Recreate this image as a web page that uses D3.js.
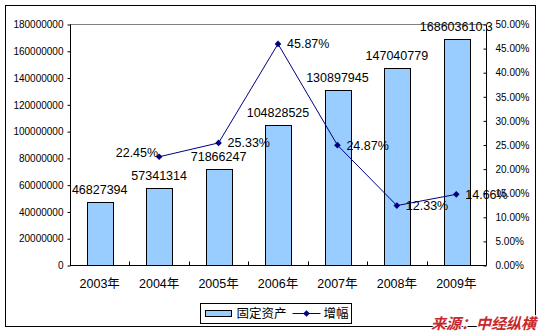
<!DOCTYPE html>
<html>
<head>
<meta charset="utf-8">
<script src="https://cdn.jsdelivr.net/npm/d3@7"></script>
<style>
  html, body { margin: 0; padding: 0; background: #fff; }
  svg { display: block; font-family: "Liberation Sans", Arial, "Noto Sans CJK SC", sans-serif; }
</style>
</head>
<body>
<svg id="chart" width="544" height="335"></svg>
<script>
// Fixed-asset investment by year, with year-on-year growth rate
const years = ["2003年", "2004年", "2005年", "2006年", "2007年", "2008年", "2009年"];
const assets = [46827394, 57341314, 71866247, 104828525, 130897945, 147040779, 168603610.3];
const assetLabels = ["46827394", "57341314", "71866247", "104828525", "130897945", "147040779", "168603610.3"];
const growthYears = ["2004年", "2005年", "2006年", "2007年", "2008年", "2009年"];
const growth = [0.2245, 0.2533, 0.4587, 0.2487, 0.1233, 0.1466];
const leftTicks = [0, 20000000, 40000000, 60000000, 80000000, 100000000, 120000000, 140000000, 160000000, 180000000];
const rightTicks = [0, 0.05, 0.10, 0.15, 0.20, 0.25, 0.30, 0.35, 0.40, 0.45, 0.50];
const legendNames = ["固定资产", "增幅"];

const svg = d3.select("#chart");
const plot = { left: 70, right: 486, top: 24, bottom: 265 };

const x = d3.scaleBand().domain(years).range([plot.left, plot.right]).paddingInner(0).paddingOuter(0);
const yL = d3.scaleLinear().domain([0, 180000000]).range([plot.bottom, plot.top]);
const yR = d3.scaleLinear().domain([0, 0.5]).range([plot.bottom, plot.top]);

// outer frame
svg.append("rect").attr("x", 5.5).attr("y", 5.5).attr("width", 530).attr("height", 321)
  .attr("fill", "#fff").attr("stroke", "#000").attr("stroke-width", 1);

// top gridline at the max value
svg.append("line")
  .attr("x1", plot.left).attr("x2", plot.right)
  .attr("y1", Math.round(yL(180000000)) + 0.5).attr("y2", Math.round(yL(180000000)) + 0.5)
  .attr("stroke", "#808080");

// bars
const barW = x.bandwidth() * 0.43;
svg.append("g").selectAll("rect").data(assets).join("rect")
  .attr("x", (d, i) => Math.round(x(years[i]) + x.bandwidth() / 2 - barW / 2) + 0.5)
  .attr("y", d => Math.round(yL(d)) + 0.5)
  .attr("width", Math.round(barW))
  .attr("height", d => Math.round(yL(0)) - Math.round(yL(d)))
  .attr("fill", "#99ccff").attr("stroke", "#000").attr("stroke-width", 1);

// left axis
const axL = d3.axisLeft(yL).tickValues(leftTicks).tickSize(3).tickPadding(4).tickFormat(d3.format("d"));
svg.append("g").attr("transform", `translate(${plot.left + 0.5},0.5)`).call(axL)
  .call(g => g.select(".domain").attr("d", `M0,${plot.top}V${plot.bottom}`))
  .call(g => g.selectAll("text").attr("font-size", 10).attr("fill", "#000").attr("font-family", "Liberation Sans, Arial"));

// right axis (ticks pointing inward)
const axR = d3.axisLeft(yR).tickValues(rightTicks).tickSize(3).tickPadding(-12).tickFormat(d3.format(".2%"));
svg.append("g").attr("transform", `translate(${plot.right + 0.5},0.5)`).call(axR)
  .call(g => g.select(".domain").attr("d", `M0,${plot.top}V${plot.bottom}`))
  .call(g => g.selectAll("text").attr("text-anchor", "start").attr("x", 9)
    .attr("font-size", 10).attr("fill", "#000").attr("font-family", "Liberation Sans, Arial"));

// bottom axis: ticks between categories, pointing up
const xg = svg.append("g").attr("transform", `translate(0,${plot.bottom + 0.5})`);
xg.append("line").attr("x1", plot.left).attr("x2", plot.right).attr("stroke", "#000");
xg.selectAll("line.tk").data(d3.range(years.length + 1)).join("line").attr("class", "tk")
  .attr("x1", i => Math.round(plot.left + i * x.bandwidth()) + 0.5)
  .attr("x2", i => Math.round(plot.left + i * x.bandwidth()) + 0.5)
  .attr("y1", -4).attr("y2", 0).attr("stroke", "#000");
xg.selectAll("text").data(years).join("text")
  .attr("x", d => x(d) + x.bandwidth() / 2).attr("y", 22)
  .attr("text-anchor", "middle").attr("font-size", 12.5)
  .attr("font-family", "Liberation Sans, Arial, Noto Sans CJK SC")
  .text(d => d);

// bar value labels
svg.append("g").selectAll("text").data(assets).join("text")
  .attr("x", (d, i) => x(years[i]) + x.bandwidth() / 2)
  .attr("y", d => yL(d) - 8)
  .attr("text-anchor", "middle").attr("font-size", 12.5).attr("fill", "#000")
  .text((d, i) => assetLabels[i]);

// growth line
const cx = d => x(d) + x.bandwidth() / 2;
const line = d3.line().x((d, i) => cx(growthYears[i])).y(d => yR(d));
svg.append("path").datum(growth).attr("d", line)
  .attr("fill", "none").attr("stroke", "#000080").attr("stroke-width", 1);

const diamond = d3.symbol().type(d3.symbolDiamond2 || d3.symbolDiamond).size(40);
svg.append("g").selectAll("path").data(growth).join("path")
  .attr("transform", (d, i) => `translate(${cx(growthYears[i])},${yR(d)}) rotate(0)`)
  .attr("d", d3.symbol().type(d3.symbolSquare).size(22))
  .attr("transform", (d, i) => `translate(${cx(growthYears[i])},${yR(d)}) rotate(45)`)
  .attr("fill", "#000080");

// growth labels
svg.append("g").selectAll("text").data(growth).join("text")
  .attr("x", (d, i) => i === 0 ? cx(growthYears[i]) - 1 : cx(growthYears[i]) + 9)
  .attr("y", (d, i) => i === 0 ? yR(d) - 4 : yR(d))
  .attr("dy", "0.35em")
  .attr("text-anchor", (d, i) => i === 0 ? "end" : "start")
  .attr("font-size", 12.5).attr("fill", "#000")
  .text(d => d3.format(".2%")(d));

// legend
const lg = svg.append("g").attr("transform", "translate(200.5,303.5)");
lg.append("rect").attr("width", 151).attr("height", 20).attr("fill", "#fff").attr("stroke", "#000");
lg.append("rect").attr("x", 5).attr("y", 7).attr("width", 26).attr("height", 6)
  .attr("fill", "#99ccff").attr("stroke", "#000");
lg.append("text").attr("x", 36).attr("y", 10).attr("dy", "0.35em").attr("font-size", 12.5)
  .attr("font-family", "Noto Sans CJK SC").text(legendNames[0]);
lg.append("line").attr("x1", 92).attr("x2", 120).attr("y1", 10).attr("y2", 10).attr("stroke", "#000080");
lg.append("path").attr("d", d3.symbol().type(d3.symbolSquare).size(22))
  .attr("transform", "translate(106,10) rotate(45)").attr("fill", "#000080");
lg.append("text").attr("x", 123).attr("y", 10).attr("dy", "0.35em").attr("font-size", 12.5)
  .attr("font-family", "Noto Sans CJK SC").text(legendNames[1]);

// source note
svg.append("text").attr("x", 536).attr("y", 329).attr("text-anchor", "end")
  .attr("font-size", 15).attr("font-weight", "bold").attr("font-style", "italic")
  .attr("font-family", "Noto Sans CJK SC").attr("fill", "#c8282d")
  .attr("stroke", "#fff").attr("stroke-width", 2).attr("paint-order", "stroke")
  .text("来源：中经纵横");
</script>
</body>
</html>
